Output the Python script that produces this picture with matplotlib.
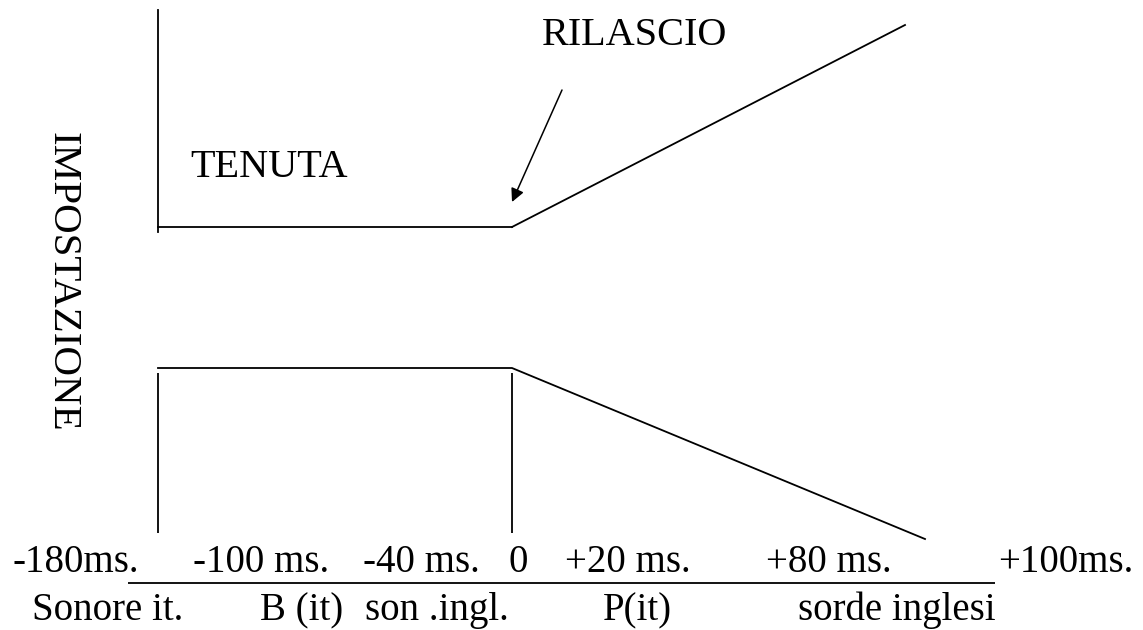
import matplotlib.pyplot as plt

plt.rcParams['font.family'] = ['Liberation Serif', 'DejaVu Serif']

# diagram coordinates (pixel space of the original drawing, y grows downward)
upper_x = [512, 158, 512, 905]
upper_y = [227, 227, 227, 25]
upper_wall_x = [158, 158]
upper_wall_y = [10, 232]

lower_x = [158, 512, 925]
lower_y = [368, 368, 539]
lower_walls_x = [158, 512]
lower_walls_top = 373
lower_walls_bottom = 533

axis_x = [128, 995]
axis_y = 583

# tick row (values in ms) and category row
tick_labels = ['-180ms.', '-100 ms.', '-40 ms.', '0', '+20 ms.', '+80 ms.', '+100ms.']
tick_left = [12, 193, 363, 508, 565, 766, 998]
tick_base = 572

category_labels = ['Sonore it.', 'B (it)', 'son .ingl.', 'P(it)', 'sorde inglesi']
category_left = [32, 260, 365, 603, 798]
category_base = 620

fig = plt.figure(figsize=(11.43, 6.3), dpi=100)
ax = fig.add_axes([0, 0, 1, 1])
ax.set_xlim(0, 1143)
ax.set_ylim(630, 0)
ax.axis('off')

lw = 1.3
ax.plot(upper_x[1:3], upper_y[1:3], color='black', lw=lw)
ax.plot(upper_x[2:], upper_y[2:], color='black', lw=lw)
ax.plot(upper_wall_x, upper_wall_y, color='black', lw=lw)
ax.plot(lower_x, lower_y, color='black', lw=lw)
ax.vlines(lower_walls_x, lower_walls_top, lower_walls_bottom, color='black', lw=lw)
ax.hlines(axis_y, axis_x[0], axis_x[1], color='black', lw=lw)

fs = 28
for lab, x in zip(tick_labels, tick_left):
    ax.text(x, tick_base, lab, fontsize=fs, ha='left', va='baseline')
for lab, x in zip(category_labels, category_left):
    ax.text(x, category_base, lab, fontsize=fs, ha='left', va='baseline')

ax.text(190, 177, 'TENUTA', fontsize=29, ha='left', va='baseline')
ax.text(542, 45, 'RILASCIO', fontsize=29, ha='left', va='baseline')
ax.text(62, 282, 'IMPOSTAZIONE', fontsize=29.5, rotation=-90,
        ha='center', va='center', rotation_mode='anchor')

# arrow from RILASCIO to the release point
ax.annotate('', xy=(512, 202), xytext=(562, 90),
            arrowprops=dict(arrowstyle='-|>', color='black', lw=1.1,
                            mutation_scale=20, shrinkA=0, shrinkB=0))

fig.savefig('out.png', dpi=100, facecolor='white')
